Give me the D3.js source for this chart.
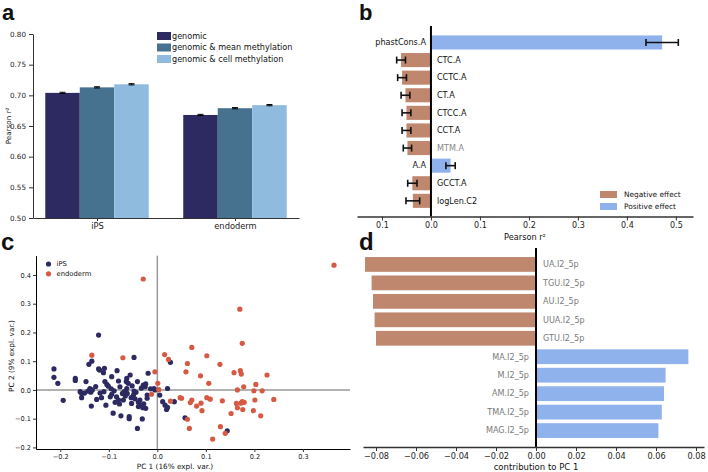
<!DOCTYPE html>
<html><head><meta charset="utf-8">
<script src="https://cdn.jsdelivr.net/npm/d3@7"></script>
<style>
html,body{margin:0;padding:0;background:#fff;}
svg{display:block;font-family:"DejaVu Sans",sans-serif;}
</style></head>
<body><svg id="c" width="708" height="472"></svg>
<script>
// ---------- Panel a data ----------
const aCats = ["iPS", "endoderm"];
const aSeries = ["genomic", "genomic & mean methylation", "genomic & cell methylation"];
const aColors = ["#2c2a60", "#46718f", "#8fbcde"];
const aGenomic = [0.704, 0.668];
const aMean = [0.713, 0.679];
const aCell = [0.718, 0.684];
const aErr = [0.001, 0.001];
const aTicks = [0.50, 0.55, 0.60, 0.65, 0.70, 0.75, 0.80];

// ---------- Panel b data ----------
const bLabels = ["phastCons.A", "CTC.A", "CCTC.A", "CT.A", "CTCC.A", "CCT.A", "MTM.A", "A.A", "GCCT.A", "logLen.C2"];
const bValues = [0.472, -0.061, -0.059, -0.052, -0.050, -0.050, -0.048, 0.040, -0.038, -0.037];
const bErrors = [0.033, 0.009, 0.009, 0.009, 0.009, 0.009, 0.0085, 0.0095, 0.0095, 0.014];
const bGray = ["MTM.A"];
const bTicks = [-0.1, 0.0, 0.1, 0.2, 0.3, 0.4, 0.5];

// ---------- Panel c data ----------
const cIPS = [
[-0.121,0.191],[-0.213,0.073],[-0.213,0.044],[-0.205,0.023],[-0.194,-0.036],
[-0.169,0.040],[-0.169,0.033],[-0.147,0.029],[-0.159,-0.006],[-0.156,-0.012],
[-0.156,-0.027],[-0.136,-0.056],[-0.141,0.089],[-0.135,0.100],[-0.139,0.005],
[-0.134,0.000],[-0.137,-0.008],[-0.125,-0.033],[-0.121,0.073],[-0.119,0.069],
[-0.109,0.075],[-0.111,0.060],[-0.108,0.029],[-0.104,0.019],[-0.110,-0.006],
[-0.106,-0.053],[-0.091,-0.081],[-0.083,0.067],[-0.080,0.031],[-0.089,-0.003],
[-0.094,-0.015],[-0.097,-0.024],[-0.084,-0.024],[-0.080,-0.035],[-0.075,-0.090],
[-0.064,0.029],[-0.063,0.040],[-0.056,0.052],[-0.060,0.023],[-0.068,-0.006],
[-0.062,-0.012],[-0.063,0.005],[-0.070,-0.035],[-0.058,-0.093],[-0.058,-0.100],
[-0.048,0.113],[-0.048,-0.004],[-0.044,-0.008],[-0.049,-0.017],[-0.053,-0.047],
[-0.041,0.029],[-0.036,-0.035],[-0.034,-0.053],[-0.039,-0.058],[-0.024,-0.064],
[-0.031,-0.101],[-0.041,-0.134],[-0.019,0.058],[-0.021,-0.018],[-0.021,-0.029],
[-0.029,0.017],[-0.025,0.011],[-0.007,0.005],[-0.005,0.000],[0.005,-0.018],
[0.011,-0.041],[0.016,-0.053],[0.019,-0.068],[0.021,-0.061],[0.021,0.005],
[0.027,0.096],[0.035,-0.041],[0.057,-0.097],[0.144,-0.142],[-0.101,0.013],
[-0.095,0.004],[-0.077,0.011],[-0.072,-0.012],[-0.066,-0.021],[-0.054,-0.027],
[-0.046,-0.031],[-0.039,-0.043],[-0.028,-0.048],[-0.087,-0.043],[-0.118,-0.011],
[-0.127,0.012],[-0.150,-0.011],[-0.078,-0.049],[-0.052,0.014],[-0.033,0.006],
[-0.014,0.004],[-0.143,-0.004],[-0.115,-0.027],[-0.094,0.046],[-0.024,0.021],
[-0.030,-0.062]
];
const cEndo = [
[-0.029,0.386],[0.364,0.434],[0.170,0.281],[-0.135,0.121],[-0.071,0.112],
[-0.005,0.063],[0.001,0.023],[-0.012,-0.015],[0.003,0.001],[0.015,0.123],
[0.023,0.106],[0.027,-0.039],[0.050,-0.029],[0.047,-0.027],[0.062,0.092],
[0.059,0.063],[0.071,0.148],[0.071,-0.035],[0.068,-0.044],[0.081,-0.056],
[0.089,0.049],[0.092,-0.072],[0.090,-0.046],[0.102,0.119],[0.106,0.023],
[0.102,-0.027],[0.109,-0.032],[0.129,0.089],[0.134,-0.038],[0.152,-0.082],
[0.158,0.060],[0.165,0.000],[0.163,-0.047],[0.165,-0.062],[0.171,0.067],
[0.173,0.055],[0.175,0.162],[0.178,0.011],[0.175,-0.041],[0.179,-0.043],
[0.172,-0.046],[0.176,-0.068],[0.199,-0.003],[0.203,0.019],[0.201,-0.035],
[0.198,-0.072],[0.216,-0.003],[0.213,-0.090],[0.226,0.052],[0.240,-0.033],
[0.062,-0.102],[0.066,-0.134],[0.114,-0.171],[0.130,-0.128],[0.140,-0.151]
];
const cXTicks = [-0.2, -0.1, 0.0, 0.1, 0.2, 0.3];
const cYTicks = [-0.2, -0.1, 0.0, 0.1, 0.2, 0.3, 0.4];

// ---------- Panel d data ----------
const dLabels = ["UA.I2_5p", "TGU.I2_5p", "AU.I2_5p", "UUA.I2_5p", "GTU.I2_5p", "MA.I2_5p", "M.I2_5p", "AM.I2_5p", "TMA.I2_5p", "MAG.I2_5p"];
const dValues = [-0.0855, -0.0822, -0.0815, -0.0807, -0.0800, 0.0762, 0.0648, 0.0640, 0.0629, 0.0612];
const dTicks = [-0.08, -0.06, -0.04, -0.02, 0.00, 0.02, 0.04, 0.06, 0.08];

const NEG = "#bf876e", POS = "#8fb2ed";
const svg = d3.select("#c");
const minus = s => s.replace("-", "−");

function panelLetter(t, x, y, fs) {
  svg.append("text").attr("x", x).attr("y", y).text(t)
    .attr("font-family", "Liberation Sans, Arial, sans-serif")
    .attr("font-weight", "bold").attr("font-size", fs).attr("fill", "#111");
}
function styleAxis(g, fs) {
  g.selectAll("path,line").attr("stroke", "#333").attr("stroke-width", 1);
  g.selectAll("text").attr("font-size", fs).attr("fill", "#222")
    .attr("font-family", "DejaVu Sans, sans-serif");
}

// ================= Panel a =================
panelLetter("a", 2, 20, 22);
const xA = d3.scaleLinear().domain([-0.464, 1.464]).range([33, 299]);
const yA = d3.scaleLinear().domain([0.5, 0.8]).range([218, 34]);
const bw = 0.25;
const aData = [aGenomic, aMean, aCell];
const gA = svg.append("g");
aData.forEach((vals, s) => {
  vals.forEach((v, i) => {
    const cx = i + (s - 1) * bw;
    gA.append("rect").attr("x", xA(cx - bw / 2)).attr("width", xA(cx + bw / 2) - xA(cx - bw / 2))
      .attr("y", yA(v)).attr("height", yA(0.5) - yA(v)).attr("fill", aColors[s]);
    const ex = xA(cx);
    gA.append("line").attr("x1", ex).attr("x2", ex).attr("y1", yA(v - aErr[i])).attr("y2", yA(v + aErr[i])).attr("stroke", "#000");
    [v - aErr[i], v + aErr[i]].forEach(e => gA.append("line").attr("x1", ex - 3).attr("x2", ex + 3)
      .attr("y1", yA(e)).attr("y2", yA(e)).attr("stroke", "#000").attr("stroke-width", 1));
  });
});
const axAy = svg.append("g").attr("transform", "translate(33,0)")
  .call(d3.axisLeft(yA).tickValues(aTicks).tickFormat(d3.format(".2f")).tickSize(4).tickPadding(3).tickSizeOuter(0));
styleAxis(axAy, 7.2);
const axAx = svg.append("g").attr("transform", "translate(0,218)")
  .call(d3.axisBottom(xA).tickValues([0, 1]).tickFormat((d, i) => aCats[i]).tickSize(3).tickPadding(2).tickSizeOuter(0));
styleAxis(axAx, 8.3);
svg.append("text").attr("transform", "translate(11,126) rotate(-90)").attr("text-anchor", "middle")
  .attr("font-size", 7.2).attr("fill", "#222").text("Pearson  r²");
aSeries.forEach((s, k) => {
  const y = 36 + k * 11.5;
  svg.append("rect").attr("x", 157).attr("y", y - 4).attr("width", 14).attr("height", 8).attr("fill", aColors[k]);
  svg.append("text").attr("x", 172).attr("y", y).attr("dy", "0.35em").attr("font-size", 8.1).attr("fill", "#111").text(s);
});

// ================= Panel b =================
panelLetter("b", 359, 20, 22);
const xB = d3.scaleLinear().domain([-0.151, 0.535]).range([357, 693]);
const yB = d3.scaleLinear().domain([-0.89, 9.89]).range([26.8, 216.5]);
const bh = 0.8;
const gB = svg.append("g");
bValues.forEach((v, i) => {
  const y0 = yB(i - bh / 2), y1 = yB(i + bh / 2);
  gB.append("rect").attr("x", Math.min(xB(0), xB(v))).attr("width", Math.abs(xB(v) - xB(0)))
    .attr("y", y0).attr("height", y1 - y0).attr("fill", v < 0 ? NEG : POS);
  const cy = yB(i), e1 = xB(v - bErrors[i]), e2 = xB(v + bErrors[i]);
  gB.append("line").attr("x1", e1).attr("x2", e2).attr("y1", cy).attr("y2", cy).attr("stroke", "#111").attr("stroke-width", 1.6);
  [e1, e2].forEach(ex => gB.append("line").attr("x1", ex).attr("x2", ex).attr("y1", cy - 3.5).attr("y2", cy + 3.5)
    .attr("stroke", "#111").attr("stroke-width", 1.6));
  gB.append("text").attr("x", v < 0 ? xB(0) + 6 : xB(0) - 5).attr("y", cy).attr("dy", "0.35em")
    .attr("text-anchor", v < 0 ? "start" : "end").attr("font-size", 8.1)
    .attr("fill", bGray.includes(bLabels[i]) ? "#888" : "#111").text(bLabels[i]);
});
svg.append("line").attr("x1", xB(0)).attr("x2", xB(0)).attr("y1", 26).attr("y2", 216.5).attr("stroke", "#000").attr("stroke-width", 2);
const axB = svg.append("g").attr("transform", "translate(0,216.5)")
  .call(d3.axisBottom(xB).tickValues(bTicks).tickFormat(d => Math.abs(d).toFixed(1)).tickSize(4).tickPadding(2).tickSizeOuter(0));
styleAxis(axB, 8);
axB.select(".domain").attr("stroke-width", 1.5);
svg.append("text").attr("x", 525).attr("y", 237).attr("dy", "0.35em").attr("text-anchor", "middle").attr("font-size", 8.2).attr("fill", "#111").text("Pearson  r²");
[["Negative effect", NEG], ["Positive effect", POS]].forEach((d, k) => {
  const y = 194.5 + k * 12;
  svg.append("rect").attr("x", 600).attr("y", y - 3.5).attr("width", 17).attr("height", 7).attr("fill", d[1]);
  svg.append("text").attr("x", 624).attr("y", y).attr("dy", "0.35em").attr("font-size", 7.4).attr("fill", "#111").text(d[0]);
});

// ================= Panel c =================
panelLetter("c", 1, 250, 24);
const xC = d3.scaleLinear().domain([-0.25, 0.397]).range([36, 350]);
const yC = d3.scaleLinear().domain([-0.2055, 0.467]).range([449, 255.7]);
svg.append("line").attr("x1", xC(0)).attr("x2", xC(0)).attr("y1", 255.7).attr("y2", 449).attr("stroke", "#999").attr("stroke-width", 1.5);
svg.append("line").attr("x1", 36).attr("x2", 350).attr("y1", yC(0)).attr("y2", yC(0)).attr("stroke", "#999").attr("stroke-width", 1.5);
const gC = svg.append("g");
gC.selectAll("circle.ips").data(cIPS).join("circle").attr("class", "ips")
  .attr("cx", d => xC(d[0])).attr("cy", d => yC(d[1])).attr("r", 2.6).attr("fill", "#2c2a60");
gC.selectAll("circle.endo").data(cEndo).join("circle").attr("class", "endo")
  .attr("cx", d => xC(d[0])).attr("cy", d => yC(d[1])).attr("r", 2.6).attr("fill", "#d65a43");
const axCx = svg.append("g").attr("transform", "translate(0,449)")
  .call(d3.axisBottom(xC).tickValues(cXTicks).tickFormat(d => minus(d3.format(".1f")(d))).tickSize(3).tickPadding(2).tickSizeOuter(0));
styleAxis(axCx, 6.6);
axCx.select(".domain").attr("stroke", "#000");
const axCy = svg.append("g").attr("transform", "translate(36,0)")
  .call(d3.axisLeft(yC).tickValues(cYTicks).tickFormat(d => minus(d3.format(".1f")(d))).tickSize(3).tickPadding(2).tickSizeOuter(0));
styleAxis(axCy, 6.6);
axCy.select(".domain").attr("stroke", "#000");
svg.append("text").attr("x", 175).attr("y", 466).attr("dy", "0.35em").attr("text-anchor", "middle").attr("font-size", 7.3).attr("fill", "#111").text("PC 1 (16% expl. var.)");
svg.append("text").attr("transform", "translate(11,356) rotate(-90)").attr("text-anchor", "middle").attr("dy", "0.35em")
  .attr("font-size", 7.3).attr("fill", "#111").text("PC 2 (9% expl. var.)");
[["iPS", "#2c2a60"], ["endoderm", "#d65a43"]].forEach((d, k) => {
  const y = 264 + k * 9.8;
  svg.append("circle").attr("cx", 48.5).attr("cy", y).attr("r", 2.6).attr("fill", d[1]);
  svg.append("text").attr("x", 56.5).attr("y", y).attr("dy", "0.35em").attr("font-size", 6.8).attr("fill", "#111").text(d[0]);
});

// ================= Panel d =================
panelLetter("d", 359, 250, 24);
const xD = d3.scaleLinear().domain([-0.0865, 0.084]).range([363, 704]);
const yD = d3.scaleLinear().domain([-0.89, 9.89]).range([248, 447]);
const gD = svg.append("g");
dValues.forEach((v, i) => {
  const y0 = yD(i - bh / 2), y1 = yD(i + bh / 2);
  gD.append("rect").attr("x", Math.min(xD(0), xD(v))).attr("width", Math.abs(xD(v) - xD(0)))
    .attr("y", y0).attr("height", y1 - y0).attr("fill", v < 0 ? NEG : POS);
  gD.append("text").attr("x", v < 0 ? xD(0) + 7 : xD(0) - 7).attr("y", yD(i)).attr("dy", "0.35em")
    .attr("text-anchor", v < 0 ? "start" : "end").attr("font-size", 8.1).attr("fill", "#7a7a7a").text(dLabels[i]);
});
svg.append("line").attr("x1", xD(0)).attr("x2", xD(0)).attr("y1", 248).attr("y2", 447).attr("stroke", "#000").attr("stroke-width", 2);
const axD = svg.append("g").attr("transform", "translate(0,447)")
  .call(d3.axisBottom(xD).tickValues(dTicks).tickFormat(d => minus(d3.format(".2f")(d))).tickSize(4).tickPadding(2).tickSizeOuter(0));
styleAxis(axD, 8.2);
axD.select(".domain").attr("stroke-width", 1.5);
svg.append("text").attr("x", 536).attr("y", 467.5).attr("dy", "0.35em").attr("text-anchor", "middle").attr("font-size", 8.5).attr("fill", "#111").text("contribution to PC 1");
</script></body></html>
